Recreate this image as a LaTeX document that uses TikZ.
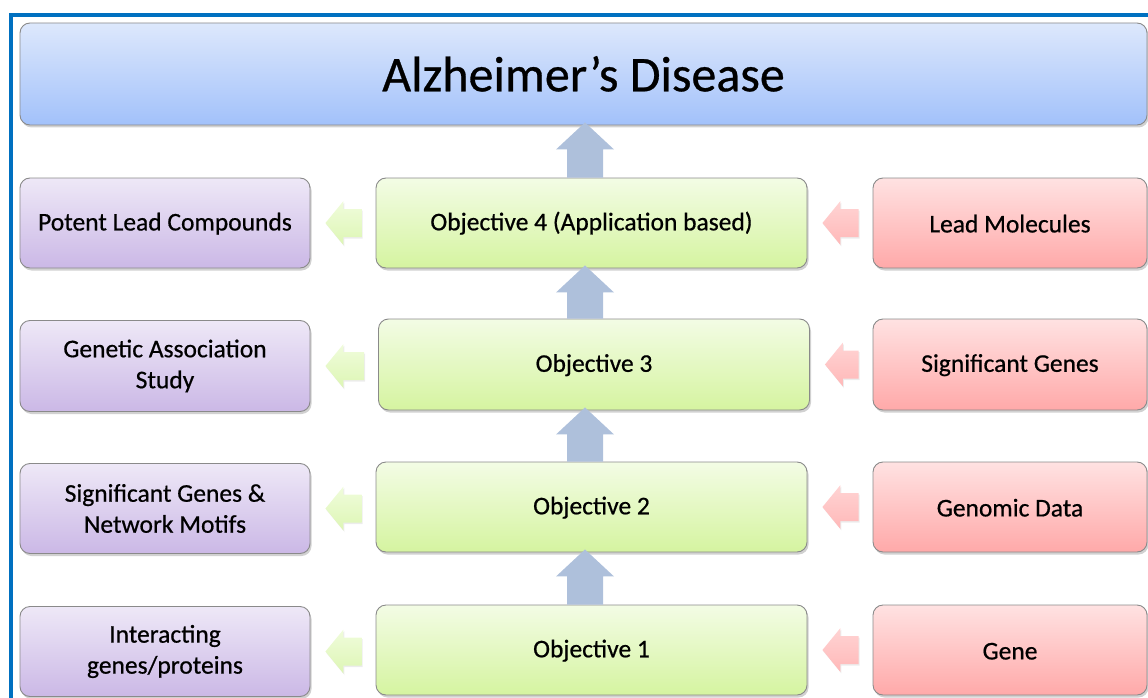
\documentclass[tikz,border=0pt]{standalone}
\usepackage{fontspec}
\setmainfont{Carlito}[FakeBold=0.6]
\usetikzlibrary{calc,shadows}
\definecolor{frameblue}{HTML}{0070C0}
\definecolor{bordergray}{HTML}{8A8A8A}
\definecolor{tTop}{HTML}{DDE8FC}\definecolor{tBot}{HTML}{A2C1FA}
\definecolor{pTop}{HTML}{EEE8F7}\definecolor{pBot}{HTML}{CBB8E6}
\definecolor{gTop}{HTML}{F3FCE5}\definecolor{gBot}{HTML}{D5F4A0}
\definecolor{rTop}{HTML}{FFE2E2}\definecolor{rBot}{HTML}{FFA9A9}
\definecolor{upcol}{HTML}{AEC0DB}
\definecolor{gaTop}{HTML}{F0FCDC}\definecolor{gaBot}{HTML}{DDF6B4}
\definecolor{raTop}{HTML}{FFD4D4}\definecolor{raBot}{HTML}{FFB8B8}
\tikzset{
  box/.style={draw=bordergray, line width=0.9pt, rounded corners=10pt,
    inner sep=0pt, align=center, font=\fontsize{25.5}{31}\selectfont,
    drop shadow={shadow xshift=1.5pt, shadow yshift=-2.5pt, opacity=0.3, fill=black!60}},
  oneline/.style={text height=19pt},
  titlebox/.style={box, top color=tTop, bottom color=tBot, text height=35pt,
    minimum width=1127pt, minimum height=102pt, font=\fontsize{50}{56}\selectfont},
  pbox/.style={box, top color=pTop, bottom color=pBot, minimum width=290pt, minimum height=90pt},
  gbox/.style={box, oneline, top color=gTop, bottom color=gBot, minimum width=431pt, minimum height=90pt},
  rbox/.style={box, oneline, top color=rTop, bottom color=rBot, minimum width=274pt, minimum height=90pt},
  uparrow/.style={fill=upcol},
  garrow/.style={top color=gaTop, bottom color=gaBot, drop shadow={shadow xshift=1pt, shadow yshift=-1.5pt, opacity=0.15}},
  rarrow/.style={top color=raTop, bottom color=raBot, drop shadow={shadow xshift=1pt, shadow yshift=-1.5pt, opacity=0.15}},
}
\newcommand{\uparr}[2]{%
  \path[uparrow] ($(ax|-#1.north)+(-18,0)$) -- ($(ax|-#2.south)+(-18,24)$) -- ($(ax|-#2.south)+(-29,24)$)
   -- ($(ax|-#2.south)+(0,-3)$) -- ($(ax|-#2.south)+(29,24)$) -- ($(ax|-#2.south)+(18,24)$)
   -- ($(ax|-#1.north)+(18,0)$) -- cycle;}
\newcommand{\leftarr}[3]{% #1 style, #2 target (left), #3 source (right)
  \path[#1] ($(#2.east)+(15,0)$) -- ($(#2.east)+(33,-22)$) -- ($(#2.east)+(33,-14)$)
   -- ($(#3.west|-#2.east)+(-14,-14)$) -- ($(#3.west|-#2.east)+(-14,14)$)
   -- ($(#2.east)+(33,14)$) -- ($(#2.east)+(33,22)$) -- cycle;}
\begin{document}
\begin{tikzpicture}[x=1pt,y=-1pt]
\useasboundingbox (0,0) rectangle (1148,698);
\coordinate (ax) at (585,0);
% frame
\draw[frameblue, line width=4pt] (11,720) -- (11,15) -- (1170,15);
% title
\node[titlebox] (ad) at (583.5,74) {Alzheimer’s Disease};
% left column
\node[pbox, oneline] (p4) at (165,223) {Potent Lead Compounds};
\node[pbox, minimum height=91pt] (p3) at (165,366) {Genetic Association\\Study};
\node[pbox] (p2) at (165,508.5) {Significant Genes \&\\Network Motifs};
\node[pbox] (p1) at (165,651.5) {Interacting\\genes/proteins};
% middle column
\node[gbox] (o4) at (591.5,223) {Objective 4 (Application based)};
\node[gbox, minimum height=91pt] (o3) at (594,364.5) {Objective 3};
\node[gbox] (o2) at (591.5,507) {Objective 2};
\node[gbox] (o1) at (591.5,650) {Objective 1};
% right column
\node[rbox] (r4) at (1010,223) {Lead Molecules};
\node[rbox, minimum height=91pt] (r3) at (1010,364.5) {Significant Genes};
\node[rbox] (r2) at (1010,507) {Genomic Data};
\node[rbox] (r1) at (1010,650) {Gene};
% up arrows
\uparr{o4}{ad}
\uparr{o3}{o4}
\uparr{o2}{o3}
\uparr{o1}{o2}
% side arrows
\leftarr{garrow}{p4}{o4}
\leftarr{garrow}{p3}{o3}
\leftarr{garrow}{p2}{o2}
\leftarr{garrow}{p1}{o1}
\leftarr{rarrow}{o4}{r4}
\leftarr{rarrow}{o3}{r3}
\leftarr{rarrow}{o2}{r2}
\leftarr{rarrow}{o1}{r1}
\end{tikzpicture}
\end{document}
